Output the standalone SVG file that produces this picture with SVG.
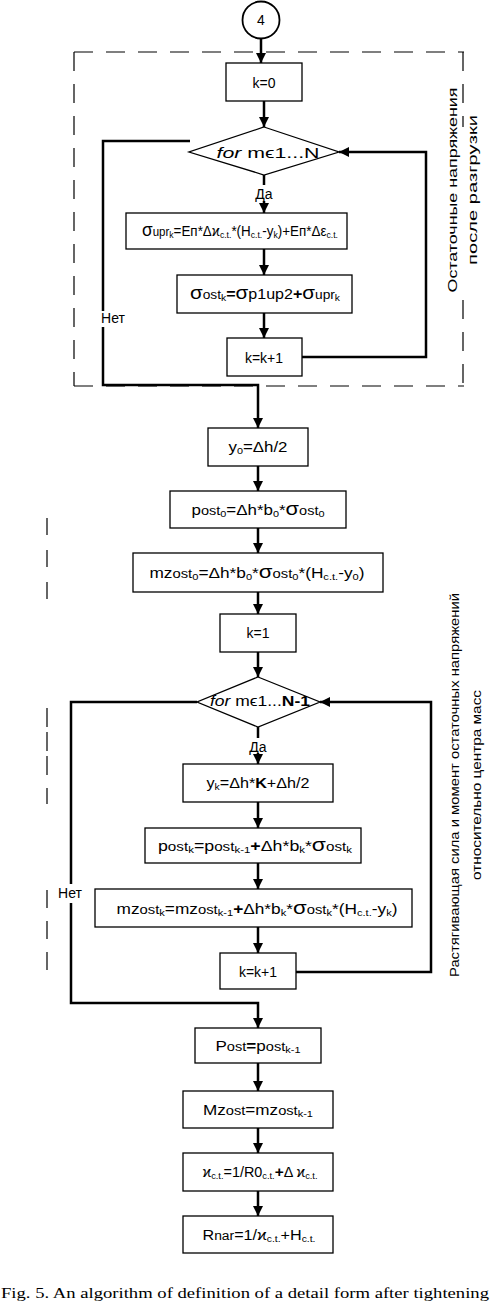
<svg xmlns="http://www.w3.org/2000/svg" width="492" height="1305" viewBox="0 0 492 1305">
<style>
.bg{fill:#fff}
.box{fill:#fff;stroke:#000;stroke-width:1.3}
.c{fill:none;stroke:#000;stroke-width:2.5}
.d{fill:none;stroke:#000;stroke-width:1.2;stroke-dasharray:19 13}
.t{font-family:"Liberation Sans",Arial,sans-serif;font-size:14px;fill:#000}
.s{font-size:12px}
.sb{font-size:9px}
.g{font-size:18px}
.b{font-weight:bold}
.lbl{font-family:"Liberation Sans",Arial,sans-serif;font-size:12px;fill:#000}
.cap{font-family:"Liberation Serif","Times New Roman",serif;font-size:15px;fill:#000}
</style>
<defs>
<marker id="ah" markerUnits="userSpaceOnUse" markerWidth="11" markerHeight="10" refX="10" refY="5" orient="auto">
<path d="M0,0 L10,5 L0,10 z" fill="#000"/>
</marker>
</defs>
<rect class="bg" width="492" height="1305"/>

<g id="frames">
<line class="d" x1="74" y1="52" x2="464" y2="52"/>
<line class="d" x1="74" y1="52" x2="74" y2="386"/>
<line class="d" x1="463" y1="52" x2="463" y2="127"/>
<line class="d" x1="463" y1="300" x2="463" y2="386"/>
<line class="d" x1="74" y1="386" x2="464" y2="386"/>
<line class="d" x1="47" y1="518" x2="47" y2="600" style="stroke-dasharray:17 15"/>
<line class="d" x1="47" y1="708" x2="47" y2="804" style="stroke-dasharray:19 5 19 5 19 13"/>
<line class="d" x1="47" y1="890" x2="47" y2="980" style="stroke-dasharray:18 13"/>
</g>

<g id="connectors">
<line class="c" x1="261" y1="38" x2="261" y2="63" marker-end="url(#ah)"/>
<line class="c" x1="264" y1="101" x2="264" y2="127" marker-end="url(#ah)"/>
<line class="c" x1="264" y1="175" x2="264" y2="185"/>
<line class="c" x1="264" y1="201" x2="264" y2="213" marker-end="url(#ah)"/>
<line class="c" x1="264" y1="249" x2="264" y2="275" marker-end="url(#ah)"/>
<line class="c" x1="264" y1="313" x2="264" y2="338" marker-end="url(#ah)"/>
<polyline class="c" points="302,357 426,357 426,152 339,152" marker-end="url(#ah)"/>
<polyline class="c" points="190,141 103,141 103,311"/>
<polyline class="c" points="103,327 103,385 258,385 258,428" marker-end="url(#ah)"/>
<line class="c" x1="258" y1="466" x2="258" y2="491" marker-end="url(#ah)"/>
<line class="c" x1="258" y1="528" x2="258" y2="553" marker-end="url(#ah)"/>
<line class="c" x1="258" y1="592" x2="258" y2="614" marker-end="url(#ah)"/>
<line class="c" x1="258" y1="652" x2="258" y2="677" marker-end="url(#ah)"/>
<line class="c" x1="258" y1="727" x2="258" y2="738"/>
<line class="c" x1="258" y1="753" x2="258" y2="764" marker-end="url(#ah)"/>
<line class="c" x1="258" y1="802" x2="258" y2="828" marker-end="url(#ah)"/>
<line class="c" x1="258" y1="863" x2="258" y2="889" marker-end="url(#ah)"/>
<line class="c" x1="258" y1="927" x2="258" y2="953" marker-end="url(#ah)"/>
<polyline class="c" points="296,972 431,972 431,702 320,702" marker-end="url(#ah)"/>
<polyline class="c" points="197,702 71,702 71,884"/>
<polyline class="c" points="71,903 71,1003 258,1003 258,1028" marker-end="url(#ah)"/>
<line class="c" x1="258" y1="1063" x2="258" y2="1091" marker-end="url(#ah)"/>
<line class="c" x1="258" y1="1128" x2="258" y2="1153" marker-end="url(#ah)"/>
<line class="c" x1="258" y1="1191" x2="258" y2="1216" marker-end="url(#ah)"/>
<text class="t" x="264" y="199" text-anchor="middle" font-size="13">Да</text>
<text class="t" x="113" y="323" text-anchor="middle" font-size="14">Нет</text>
<text class="t" x="258" y="752" text-anchor="middle" font-size="13">Да</text>
<text class="t" x="70" y="898" text-anchor="middle" font-size="14">Нет</text>
</g>

<g id="start">
<circle cx="261" cy="20" r="18.5" fill="#fff" stroke="#000" stroke-width="1.8"/>
<text class="t" x="261" y="25" text-anchor="middle" font-size="13">4</text>
</g>

<g id="k0">
<rect class="box" x="226" y="63" width="76" height="38"/>
<text class="t" x="264" y="88" text-anchor="middle" font-size="16">k=0</text>
</g>

<g id="loop1">
<polygon class="box" points="264,127 339,152 264,175 189,152"/>
<text class="t" x="268" y="158" text-anchor="middle" font-size="17" textLength="103" lengthAdjust="spacingAndGlyphs"><tspan font-style="italic">for</tspan>  mϵ1...N</text>
</g>

<g id="supr">
<rect class="box" x="126" y="213" width="221" height="36"/>
<text class="t" x="240" y="236" text-anchor="middle" font-size="13" textLength="196" lengthAdjust="spacingAndGlyphs"><tspan class="g">σ</tspan><tspan class="s">upr</tspan><tspan class="sb" dy="2">k</tspan><tspan dy="-2">=Eп*Δϰ</tspan><tspan class="sb" dy="2">c.t.</tspan><tspan dy="-2">*(H</tspan><tspan class="sb" dy="2">c.t.</tspan><tspan dy="-2">-y</tspan><tspan class="sb" dy="2">k</tspan><tspan dy="-2">)+Eп*Δε</tspan><tspan class="sb" dy="2">c.t.</tspan></text>
</g>

<g id="sost">
<rect class="box" x="177" y="275" width="175" height="38"/>
<text class="t" x="265" y="299" text-anchor="middle" textLength="150" lengthAdjust="spacingAndGlyphs"><tspan class="g">σ</tspan><tspan class="s">ost</tspan><tspan class="sb" dy="2">k</tspan><tspan dy="-2" class="b">=</tspan><tspan class="g">σ</tspan>p1up2<tspan class="b">+</tspan><tspan class="g">σ</tspan><tspan class="s">upr</tspan><tspan class="sb" dy="2">k</tspan></text>
</g>

<g id="kinc1">
<rect class="box" x="227" y="338" width="75" height="38"/>
<text class="t" x="264" y="363" text-anchor="middle" font-size="17">k=k+1</text>
</g>

<g id="y0">
<rect class="box" x="208" y="428" width="100" height="38"/>
<text class="t" x="258" y="452" text-anchor="middle" font-size="16" textLength="59" lengthAdjust="spacingAndGlyphs">y<tspan class="sb" dy="2">0</tspan><tspan dy="-2">=Δh/2</tspan></text>
</g>

<g id="post0">
<rect class="box" x="170" y="491" width="176" height="37"/>
<text class="t" x="258" y="515" text-anchor="middle" font-size="16" textLength="133" lengthAdjust="spacingAndGlyphs">p<tspan class="s">ost</tspan><tspan class="sb" dy="2">0</tspan><tspan dy="-2">=Δh*b</tspan><tspan class="sb" dy="2">0</tspan><tspan dy="-2">*</tspan><tspan class="g">σ</tspan><tspan class="s">ost</tspan><tspan class="sb" dy="2">0</tspan></text>
</g>

<g id="mzost0">
<rect class="box" x="133" y="553" width="250" height="39"/>
<text class="t" x="257" y="578" text-anchor="middle" font-size="17" textLength="215" lengthAdjust="spacingAndGlyphs">mz<tspan class="s">ost</tspan><tspan class="sb" dy="2">0</tspan><tspan dy="-2">=Δh*b</tspan><tspan class="sb" dy="2">0</tspan><tspan dy="-2">*</tspan><tspan class="g">σ</tspan><tspan class="s">ost</tspan><tspan class="sb" dy="2">0</tspan><tspan dy="-2">*(H</tspan><tspan class="sb" dy="2">c.t.</tspan><tspan dy="-2">-y</tspan><tspan class="sb" dy="2">0</tspan><tspan dy="-2">)</tspan></text>
</g>

<g id="k1">
<rect class="box" x="220" y="614" width="76" height="38"/>
<text class="t" x="258" y="638" text-anchor="middle" font-size="16">k=1</text>
</g>

<g id="loop2">
<polygon class="box" points="258,677 320,702 258,727 197,702"/>
<text class="t" x="260" y="706" text-anchor="middle" font-size="13" textLength="100" lengthAdjust="spacingAndGlyphs"><tspan font-style="italic">for</tspan>  mϵ1...<tspan class="b">N-1</tspan></text>
</g>

<g id="yk">
<rect class="box" x="183" y="764" width="150" height="38"/>
<text class="t" x="258" y="788" text-anchor="middle" font-size="16" textLength="103" lengthAdjust="spacingAndGlyphs">y<tspan class="sb" dy="2">k</tspan><tspan dy="-2">=Δh*</tspan><tspan class="b">K</tspan>+Δh/2</text>
</g>

<g id="postk">
<rect class="box" x="145" y="828" width="216" height="35"/>
<text class="t" x="255" y="851" text-anchor="middle" font-size="16" textLength="194" lengthAdjust="spacingAndGlyphs">p<tspan class="s">ost</tspan><tspan class="sb" dy="2">k</tspan><tspan dy="-2">=p</tspan><tspan class="s">ost</tspan><tspan class="sb" dy="2">k-1</tspan><tspan dy="-2" class="b">+</tspan>Δh*b<tspan class="sb" dy="2">k</tspan><tspan dy="-2">*</tspan><tspan class="g">σ</tspan><tspan class="s">ost</tspan><tspan class="sb" dy="2">k</tspan></text>
</g>

<g id="mzostk">
<rect class="box" x="95" y="889" width="317" height="38"/>
<text class="t" x="257" y="914" text-anchor="middle" font-size="17" textLength="281" lengthAdjust="spacingAndGlyphs">mz<tspan class="s">ost</tspan><tspan class="sb" dy="2">k</tspan><tspan dy="-2">=mz</tspan><tspan class="s">ost</tspan><tspan class="sb" dy="2">k-1</tspan><tspan dy="-2" class="b">+</tspan>Δh*b<tspan class="sb" dy="2">k</tspan><tspan dy="-2">*</tspan><tspan class="g">σ</tspan><tspan class="s">ost</tspan><tspan class="sb" dy="2">k</tspan><tspan dy="-2">*(H</tspan><tspan class="sb" dy="2">c.t.</tspan><tspan dy="-2">-y</tspan><tspan class="sb" dy="2">k</tspan><tspan dy="-2">)</tspan></text>
</g>

<g id="kinc2">
<rect class="box" x="220" y="953" width="76" height="36"/>
<text class="t" x="258" y="977" text-anchor="middle" font-size="16">k=k+1</text>
</g>

<g id="Post">
<rect class="box" x="195" y="1028" width="126" height="35"/>
<text class="t" x="258" y="1051" text-anchor="middle" font-size="16" textLength="85" lengthAdjust="spacingAndGlyphs">P<tspan class="s">ost</tspan><tspan class="b">=</tspan>p<tspan class="s">ost</tspan><tspan class="sb" dy="2">k-1</tspan></text>
</g>

<g id="Mzost">
<rect class="box" x="183" y="1091" width="150" height="37"/>
<text class="t" x="258" y="1115" text-anchor="middle" font-size="16" textLength="110" lengthAdjust="spacingAndGlyphs">Mz<tspan class="s">ost</tspan>=mz<tspan class="s">ost</tspan><tspan class="sb" dy="2">k-1</tspan></text>
</g>

<g id="kappa">
<rect class="box" x="183" y="1153" width="150" height="38"/>
<text class="t" x="260" y="1177" text-anchor="middle" font-size="13" textLength="115" lengthAdjust="spacingAndGlyphs">ϰ<tspan class="sb" dy="2">c.t.</tspan><tspan dy="-2">=1/R0</tspan><tspan class="sb" dy="2">c.t.</tspan><tspan dy="-2" class="b" font-size="15">+</tspan><tspan>Δ ϰ</tspan><tspan class="sb" dy="2">c.t.</tspan></text>
</g>

<g id="Rnar">
<rect class="box" x="183" y="1216" width="150" height="37"/>
<text class="t" x="259" y="1240" text-anchor="middle" font-size="16" textLength="113" lengthAdjust="spacingAndGlyphs">R<tspan class="s">nar</tspan>=1/ϰ<tspan class="sb" dy="2">c.t.</tspan><tspan dy="-2">+H</tspan><tspan class="sb" dy="2">c.t.</tspan></text>
</g>

<g id="labels">
<rect class="bg" x="444" y="127" width="40" height="173"/>
<text class="lbl" transform="translate(457,190) rotate(-90)" text-anchor="middle" textLength="205" lengthAdjust="spacingAndGlyphs">Остаточные напряжения</text>
<text class="lbl" transform="translate(477,190) rotate(-90)" text-anchor="middle" textLength="150" lengthAdjust="spacingAndGlyphs">после разгрузки</text>
<text class="lbl" transform="translate(459,785) rotate(-90)" text-anchor="middle" textLength="384" lengthAdjust="spacingAndGlyphs">Растягивающая сила и момент остаточных напряжений</text>
<text class="lbl" transform="translate(481,785) rotate(-90)" text-anchor="middle" textLength="190" lengthAdjust="spacingAndGlyphs">относительно центра масс</text>
</g>

<text class="cap" x="1" y="1298" textLength="488" lengthAdjust="spacingAndGlyphs">Fig. 5. An algorithm of definition of a detail form after tightening</text>
</svg>
